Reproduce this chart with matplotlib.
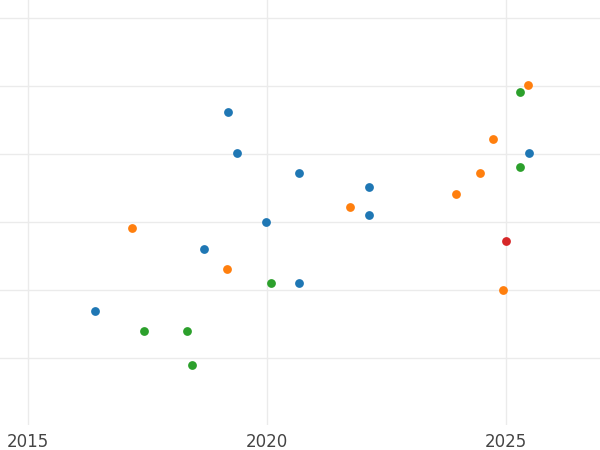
import matplotlib
matplotlib.use('Agg')
import matplotlib.pyplot as plt

# series
blue_x = [2019.18, 2019.37, 2020.67, 2022.13, 2022.13, 2019.98, 2018.68, 2020.67, 2016.40, 2025.48]
blue_y = [3.62, 3.01, 2.71, 2.51, 2.10, 2.00, 1.60, 1.10, 0.69, 3.01]
orange_x = [2025.46, 2024.73, 2024.46, 2023.95, 2021.74, 2017.18, 2019.16, 2024.94]
orange_y = [4.01, 3.21, 2.71, 2.41, 2.21, 1.91, 1.31, 1.00]
green_x = [2025.29, 2025.29, 2020.08, 2017.43, 2018.33, 2018.43]
green_y = [3.91, 2.81, 1.10, 0.40, 0.40, -0.10]
red_x = [2025.0]
red_y = [1.71]

fig = plt.figure(figsize=(6, 4.5), dpi=100)
ax = fig.add_axes([0, 0.056, 1, 0.944])

ax.scatter(blue_x, blue_y, s=40, color='#1f77b4', zorder=3, linewidths=0)
ax.scatter(orange_x, orange_y, s=40, color='#ff7f0e', zorder=3, linewidths=0)
ax.scatter(green_x, green_y, s=40, color='#2ca02c', zorder=3, linewidths=0)
ax.scatter(red_x, red_y, s=40, color='#d62728', zorder=3, linewidths=0)

ax.set_xlim(2014.41, 2026.97)
ax.set_ylim(-0.985, 5.26)
ax.set_xticks([2015, 2020, 2025])
ax.set_yticks([0, 1, 2, 3, 4, 5])
ax.set_yticklabels([])
ax.tick_params(length=0, labelsize=12, labelcolor='#444444', pad=6)
ax.grid(True, color='#ebebeb', linewidth=1)
ax.set_axisbelow(True)
for s in ax.spines.values():
    s.set_visible(False)

fig.savefig('out.png', dpi=100)
